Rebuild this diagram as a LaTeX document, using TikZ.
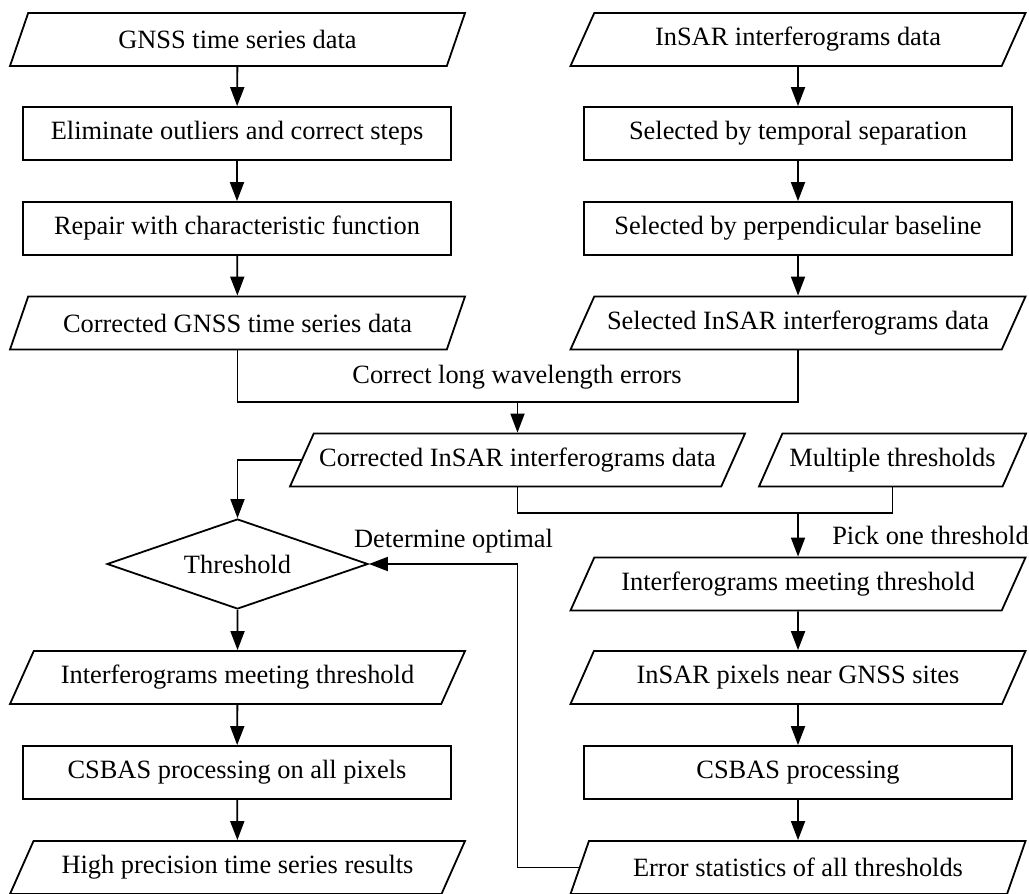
\documentclass[tikz,border=0pt]{standalone}
\usepackage{fontspec}
\setmainfont{Liberation Serif}
\usetikzlibrary{shapes.geometric,arrows.meta}

\begin{document}
\begin{tikzpicture}[x=0.5pt, y=-0.5pt, line width=0.9pt,
    every node/.style={font=\fontsize{13.2}{15}\selectfont},
    procbox/.style={draw, rectangle, minimum width=214pt, minimum height=26.5pt, inner sep=0pt},
    databox/.style={draw, trapezium, trapezium left angle=45.6, trapezium right angle=134.4,
        trapezium stretches body, minimum width=227.5pt, minimum height=26.5pt, inner sep=0pt},
    decide/.style={draw, diamond, aspect=2.9, minimum width=130.5pt, minimum height=45pt, inner sep=0pt},
    flow/.style={-{Triangle[length=9.5pt,width=7pt]}}]
    \useasboundingbox (0,0) rectangle (1029,894);

    % GNSS branch
    \node[databox] (gnss) at (237.5,39.5) {GNSS time series data};
    \node[procbox] (elim) at (237,133.5) {Eliminate outliers and correct steps};
    \node[procbox] (repair) at (237,228.5) {Repair with characteristic function};
    \node[databox] (corrgnss) at (237.5,323) {Corrected GNSS time series data};

    % InSAR branch
    \node[databox] (insar) at (798,39.5) {InSAR interferograms data};
    \node[procbox] (temp) at (798,133.5) {Selected by temporal separation};
    \node[procbox] (perp) at (798,228.5) {Selected by perpendicular baseline};
    \node[databox] (selinsar) at (798,323) {Selected InSAR interferograms data};

    % Merged data and thresholds
    \node[databox] (corrinsar) at (517.5,460) {Corrected InSAR interferograms data};
    \node[databox, minimum width=133.5pt] (mult) at (892.5,460) {Multiple thresholds};

    % Left: final processing
    \node[decide] (thr) at (237.5,564) {Threshold};
    \node[databox] (intL) at (237.5,677.5) {Interferograms meeting threshold};
    \node[procbox] (csbasL) at (237,772.5) {CSBAS processing on all pixels};
    \node[databox] (high) at (237.5,867.5) {High precision time series results};

    % Right: threshold tests
    \node[databox] (intR) at (798,584) {Interferograms meeting threshold};
    \node[databox] (pixels) at (798,677.5) {InSAR pixels near GNSS sites};
    \node[procbox] (csbasR) at (798,772.5) {CSBAS processing};
    \node[databox] (errstat) at (798,867.5) {Error statistics of all thresholds};

    % Junctions
    \coordinate (j1) at (517.5,402);
    \coordinate (j2) at (798,513);
    \coordinate (fb) at (517.5,564);

    % Labels on the lines
    \node (lblcorr) at (517,377) {Correct long wavelength errors};
    \node (lblpick) at (930.5,535) {Pick one threshold};
    \node (lbldet) at (453.5,541) {Determine optimal};

    % Straight flows
    \draw[flow] (gnss) -- (elim);
    \draw[flow] (elim) -- (repair);
    \draw[flow] (repair) -- (corrgnss);
    \draw[flow] (insar) -- (temp);
    \draw[flow] (temp) -- (perp);
    \draw[flow] (perp) -- (selinsar);
    \draw[flow] (thr) -- (intL);
    \draw[flow] (intL) -- (csbasL);
    \draw[flow] (csbasL) -- (high);
    \draw[flow] (intR) -- (pixels);
    \draw[flow] (pixels) -- (csbasR);
    \draw[flow] (csbasR) -- (errstat);

    % Joining lines
    \draw (corrgnss.south) |- (j1) -| (selinsar.south);
    \draw[flow] (j1) -- (corrinsar);
    \draw (corrinsar.south) |- (j2) -| (mult.south);
    \draw[flow] (j2) -- (intR);
    \draw[flow] (corrinsar.west) -| (thr.north);

    % Feedback loop
    \draw[flow] (errstat.west) -| (fb) -- (thr.east);
\end{tikzpicture}
\end{document}
